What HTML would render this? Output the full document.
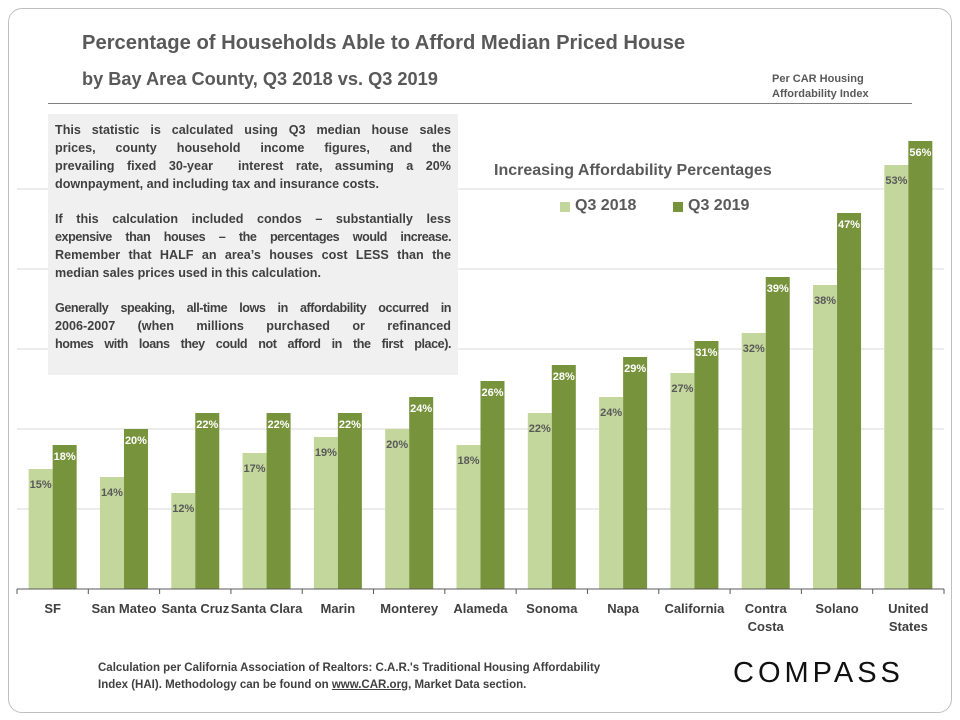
<!DOCTYPE html>
<html><head><meta charset="utf-8"><style>
body{margin:0;width:960px;height:720px;background:#fff;font-family:"Liberation Sans",sans-serif;position:relative;overflow:hidden}
.card{position:absolute;left:8px;top:8px;width:942px;height:703px;border:1px solid #bfbfbf;border-radius:14px}
.t{position:absolute;color:#595959;font-weight:bold;white-space:nowrap}
.box{position:absolute;left:48px;top:114px;width:396px;height:254px;background:#f0f0f0;padding:7px 7px 0 7px;color:#404040;font-weight:bold;font-size:12.6px;line-height:18px}
.box .l{text-align:justify;text-align-last:justify;white-space:nowrap}
.box .e{text-align:left;white-space:nowrap}
.box .s{letter-spacing:-0.45px}
.box .g{height:17px}
</style></head><body>
<div class="card"></div>
<div class="t" style="left:82px;top:32px;font-size:20.2px">Percentage of Households Able to Afford Median Priced House</div>
<div class="t" style="left:82px;top:69px;font-size:18.2px">by Bay Area County, Q3 2018 vs. Q3 2019</div>
<div class="t" style="left:772px;top:72px;font-size:11px;line-height:15px">Per CAR Housing<br>Affordability Index</div>
<div style="position:absolute;left:48px;top:103px;width:864px;height:1px;background:#7f7f7f"></div>
<svg id="chart" width="960" height="720" style="position:absolute;left:0;top:0"></svg>
<div class="box">
<div class="l">This statistic is calculated using Q3 median house sales</div>
<div class="l">prices, county household income figures, and the</div>
<div class="l">prevailing fixed 30-year &nbsp;interest rate, assuming a 20%</div>
<div class="e">downpayment, and including tax and insurance costs.</div>
<div class="g"></div>
<div class="l">If this calculation included condos – substantially less</div>
<div class="l s">expensive than houses – the percentages would increase.</div>
<div class="l">Remember that HALF an area’s houses cost LESS than the</div>
<div class="e">median sales prices used in this calculation.</div>
<div class="g"></div>
<div class="l s">Generally speaking, all-time lows in affordability occurred in</div>
<div class="l">2006-2007 (when millions purchased or refinanced</div>
<div class="l s">homes with loans they could not afford in the first place).</div>
</div>
<div class="t" style="left:494px;top:162px;font-size:16px">Increasing Affordability Percentages</div>
<div style="position:absolute;left:560px;top:202px;width:10px;height:10px;background:#c3d69b"></div>
<div class="t" style="left:575px;top:197px;font-size:16px">Q3 2018</div>
<div style="position:absolute;left:673px;top:202px;width:10px;height:10px;background:#77933c"></div>
<div class="t" style="left:688px;top:197px;font-size:16px">Q3 2019</div>
<div class="t" style="left:98px;top:660px;font-size:11.5px;line-height:17px;color:#404040">Calculation per California Association of Realtors: C.A.R.'s Traditional Housing Affordability<br>Index (HAI). Methodology can be found on <u>www.CAR.org</u>, Market Data section.</div>
<div class="t" style="left:733px;top:657px;font-size:29px;letter-spacing:4px;color:#111;font-weight:normal">COMPASS</div>
<script>
const categories=["SF","San Mateo","Santa Cruz","Santa Clara","Marin","Monterey","Alameda","Sonoma","Napa","California","Contra Costa","Solano","United States"];
const q2018=[15,14,12,17,19,20,18,22,24,27,32,38,53];
const q2019=[18,20,22,22,22,24,26,28,29,31,39,47,56];
const gridTicks=[10,20,30,40,50];
const svg=document.getElementById('chart');const NS='http://www.w3.org/2000/svg';
const x0=17,x1=944,base=589,ppu=8;
const y=v=>base-v*ppu;const slot=(x1-x0)/categories.length;
function mk(t,a){const e=document.createElementNS(NS,t);for(const k in a)e.setAttribute(k,a[k]);svg.appendChild(e);return e;}
gridTicks.forEach(v=>{const g=mk('line',{x1:x0,x2:x1,y1:y(v),y2:y(v),stroke:'#d9d9d9','stroke-width':1});

});
categories.forEach((c,i)=>{const cx=x0+slot*(i+0.5);
const a=mk('rect',{x:cx-24,y:y(q2018[i]),width:24,height:q2018[i]*ppu,fill:'#c3d69b'});


const b=mk('rect',{x:cx,y:y(q2019[i]),width:24,height:q2019[i]*ppu,fill:'#77933c'});


const la=mk('text',{x:cx-12,y:y(q2018[i])+19,'text-anchor':'middle','font-size':'11','font-weight':'bold',fill:'#595959','font-family':'Liberation Sans'});la.textContent=q2018[i]+'%';


const lb=mk('text',{x:cx+12,y:y(q2019[i])+15,'text-anchor':'middle','font-size':'11','font-weight':'bold',fill:'#fff','font-family':'Liberation Sans'});lb.textContent=q2019[i]+'%';


const words=c==='Contra Costa'?['Contra','Costa']:c==='United States'?['United','States']:[c];
words.forEach((w,j)=>{const t=mk('text',{x:cx,y:613+j*18,'text-anchor':'middle','font-size':'13','font-weight':'bold',fill:'#404040','font-family':'Liberation Sans'});t.textContent=w;

});
});
const ax=mk('line',{x1:x0,x2:x1,y1:base,y2:base,stroke:'#595959','stroke-width':1});


for(let i=0;i<=categories.length;i++){const tk=mk('line',{x1:x0+slot*i,x2:x0+slot*i,y1:base,y2:base+5,stroke:'#595959'});

}
</script>
</body></html>
